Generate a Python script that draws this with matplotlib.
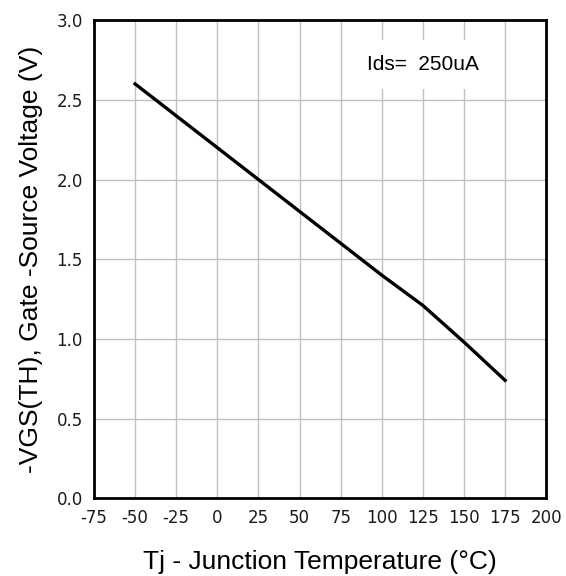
import numpy as np
import matplotlib
matplotlib.use("Agg")
import matplotlib.pyplot as plt

plt.rcParams['font.family'] = ['Liberation Sans', 'DejaVu Sans']
plt.rcParams['axes.unicode_minus'] = False

# data
temps = [-50, -25, 0, 25, 50, 75, 100, 125, 150, 175]
vgs_th = [2.6, 2.4, 2.2, 2.0, 1.8, 1.6, 1.4, 1.21, 0.98, 0.74]
x_ticks = [-75, -50, -25, 0, 25, 50, 75, 100, 125, 150, 175, 200]
y_ticks = [0.0, 0.5, 1.0, 1.5, 2.0, 2.5, 3.0]

fig = plt.figure(figsize=(5.66, 5.76), dpi=100)
ax = fig.add_axes([0.166, 0.135, 0.799, 0.83])

ax.plot(temps, vgs_th, color='black', linewidth=2.4, zorder=3)

ax.set_xlim(-75, 200)
ax.set_ylim(0, 3.0)
ax.set_xticks(x_ticks)
ax.set_yticks(y_ticks)
ax.set_yticklabels(["%.1f" % v for v in y_ticks])
ax.grid(True, color='#c0c0c0', linewidth=1.0, zorder=0)
ax.tick_params(length=0, labelsize=12, pad=8, labelfontfamily='DejaVu Sans',
               labelcolor='#1a1a1a')
for s in ax.spines.values():
    s.set_linewidth(2)
    s.set_color('black')

ax.text(125, 2.72, "Ids=  250uA", fontsize=15, ha='center', va='center',
        bbox=dict(facecolor='white', edgecolor='none', pad=11), zorder=2)

ax.set_xlabel("Tj - Junction Temperature (°C)", fontsize=19, labelpad=16)
ax.set_ylabel("-VGS(TH), Gate -Source Voltage (V)", fontsize=19, labelpad=10)

fig.savefig("out.png", dpi=100)
